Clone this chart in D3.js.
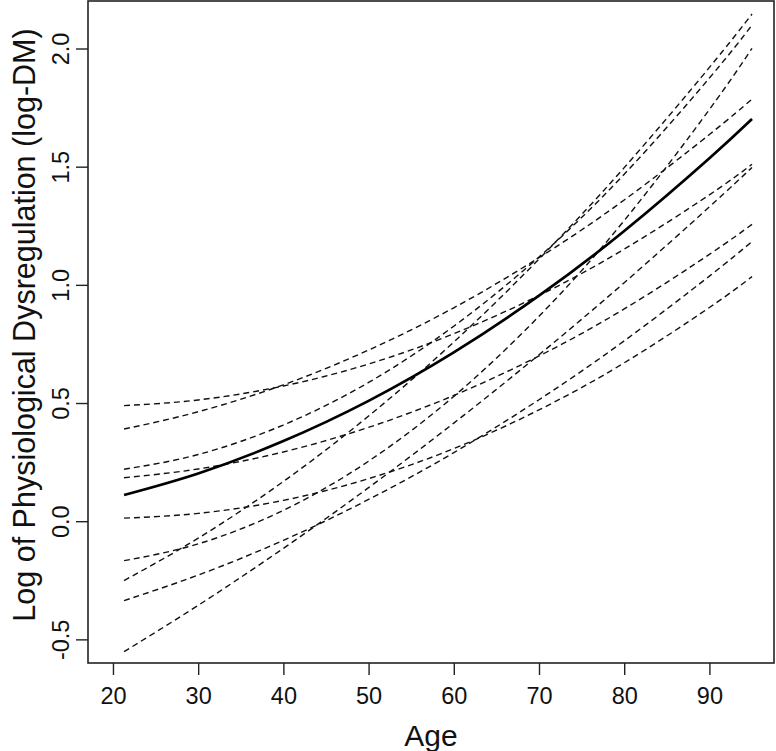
<!DOCTYPE html>
<html>
<head>
<meta charset="utf-8">
<script src="https://cdn.jsdelivr.net/npm/d3@7"></script>
<style>
  body { margin: 0; background: #fff; }
  svg { display: block; }
  text { font-family: "Liberation Sans", Arial, Helvetica, sans-serif; fill: #111; }
</style>
</head>
<body>
<svg id="chart" width="776" height="751"></svg>
<script>
const ages = [21.3, 30, 40, 50, 60, 70, 80, 90, 95];

// population average (solid line)
const meanCurve = [0.111, 0.202, 0.339, 0.509, 0.714, 0.954, 1.228, 1.536, 1.702];

// individual populations (dashed lines)
const pop1 = [0.489, 0.513, 0.572, 0.665, 0.793, 0.955, 1.151, 1.381, 1.510];
const pop2 = [0.390, 0.463, 0.577, 0.724, 0.903, 1.115, 1.359, 1.636, 1.786];
const pop3 = [0.220, 0.282, 0.407, 0.587, 0.825, 1.118, 1.468, 1.875, 2.099];
const pop4 = [0.184, 0.221, 0.293, 0.397, 0.532, 0.699, 0.898, 1.129, 1.256];
const pop5 = [0.013, 0.033, 0.088, 0.180, 0.307, 0.471, 0.670, 0.904, 1.035];
const pop6 = [-0.167, -0.096, 0.046, 0.254, 0.528, 0.867, 1.272, 1.742, 2.001];
const pop7 = [-0.251, -0.072, 0.168, 0.445, 0.758, 1.109, 1.496, 1.920, 2.146];
const pop8 = [-0.336, -0.228, -0.081, 0.092, 0.290, 0.514, 0.763, 1.037, 1.183];
const pop9 = [-0.552, -0.356, -0.115, 0.142, 0.415, 0.704, 1.009, 1.330, 1.497];

const xTicks = [20, 30, 40, 50, 60, 70, 80, 90];
const yTicks = [-0.5, 0.0, 0.5, 1.0, 1.5, 2.0];

const xTitle = "Age";
const yTitle = "Log of Physiological Dysregulation (log-DM)";

const populations = [pop1, pop2, pop3, pop4, pop5, pop6, pop7, pop8, pop9];

// plot region (R style box)
const box = { left: 88, top: 1, right: 774, bottom: 663 };

const svg = d3.select("#chart");

const x = d3.scaleLinear().domain([17.07, 97.58]).range([box.left, box.right]);
const y = d3.scaleLinear().domain([-0.6, 2.201]).range([box.bottom, box.top]);

const line = d3.line()
    .x(d => x(d[0]))
    .y(d => y(d[1]))
    .curve(d3.curveNatural);

const toPoints = vals => ages.map((a, i) => [a, vals[i]]);

// dashed population curves
svg.append("g").selectAll("path.pop")
    .data(populations)
  .enter().append("path")
    .attr("class", "pop")
    .attr("d", d => line(toPoints(d)))
    .attr("fill", "none")
    .attr("stroke", "#111")
    .attr("stroke-width", 1.4)
    .attr("stroke-dasharray", "6,4");

// solid average curve
svg.append("path")
    .attr("d", line(toPoints(meanCurve)))
    .attr("fill", "none")
    .attr("stroke", "#000")
    .attr("stroke-width", 2.7);

// box
svg.append("rect")
    .attr("x", box.left).attr("y", box.top)
    .attr("width", box.right - box.left).attr("height", box.bottom - box.top)
    .attr("fill", "none").attr("stroke", "#222").attr("stroke-width", 1.6);

// x axis
const gx = svg.append("g")
    .attr("transform", "translate(0," + box.bottom + ")")
    .call(d3.axisBottom(x).tickValues(xTicks).tickSize(12).tickFormat(d3.format("d")));
gx.select(".domain").remove();
gx.selectAll(".tick line").attr("stroke", "#222").attr("stroke-width", 1.4);
gx.selectAll(".tick text")
    .attr("dy", null).attr("y", 41)
    .style("font-size", "23.5px");

// y axis, labels parallel to axis
const gy = svg.append("g")
    .attr("transform", "translate(" + box.left + ",0)")
    .call(d3.axisLeft(y).tickValues(yTicks).tickSize(12).tickFormat(d => d.toFixed(1)));
gy.select(".domain").remove();
gy.selectAll(".tick line").attr("stroke", "#222").attr("stroke-width", 1.4);
gy.selectAll(".tick text")
    .attr("x", 0).attr("dy", null).attr("y", -19)
    .attr("text-anchor", "middle")
    .attr("transform", "rotate(-90)")
    .style("font-size", "23.5px");

// titles
svg.append("text")
    .attr("x", (box.left + box.right) / 2).attr("y", 746)
    .attr("text-anchor", "middle")
    .style("font-size", "30px")
    .text(xTitle);

svg.append("text")
    .attr("transform", "translate(35,325) rotate(-90)")
    .attr("text-anchor", "middle")
    .style("font-size", "30.5px")
    .text(yTitle);
</script>
</body>
</html>
